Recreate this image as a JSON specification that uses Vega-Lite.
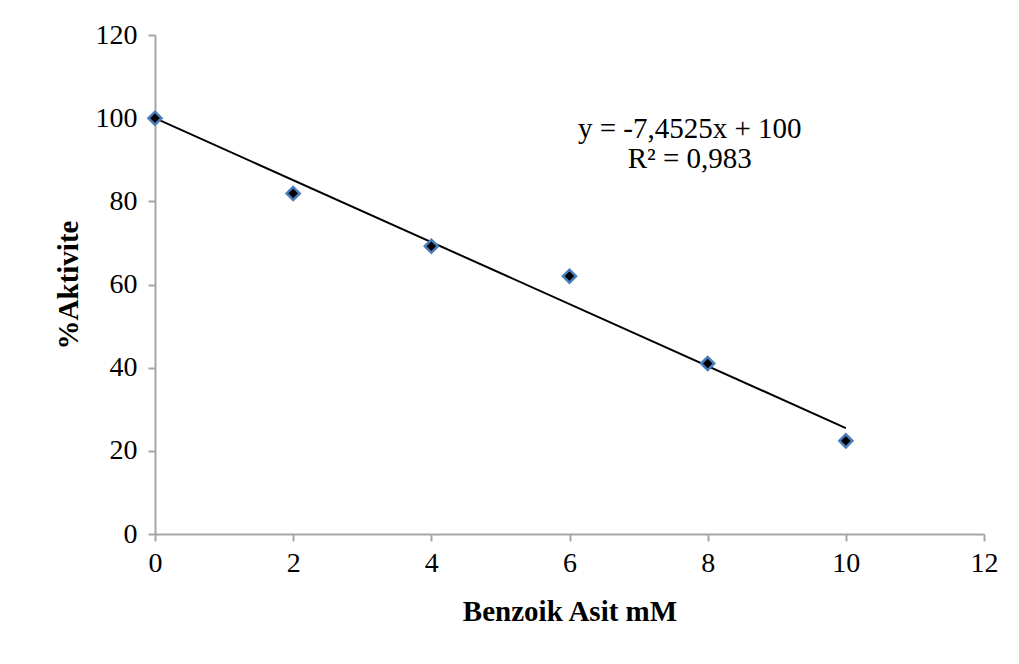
{
  "$schema": "https://vega.github.io/schema/vega-lite/v6.json",
  "width": 829,
  "height": 499,
  "padding": {"left": 155, "top": 35, "right": 35, "bottom": 130},
  "autosize": {"type": "none"},
  "background": "white",
  "config": {
    "view": {"stroke": null}
  },
  "datasets": {
    "points": [
      {"x": 0, "y": 100},
      {"x": 2, "y": 81.9},
      {"x": 4, "y": 69.2},
      {"x": 6, "y": 62.0},
      {"x": 8, "y": 41.0},
      {"x": 10, "y": 22.4}
    ],
    "trend": [
      {"x": 0, "y": 100},
      {"x": 10, "y": 25.475}
    ],
    "labels": [
      {"x": 7.74, "y": 97.5, "t": "y = -7,4525x + 100"},
      {"x": 7.74, "y": 90.3, "t": "R² = 0,983"}
    ]
  },
  "layer": [
    {
      "data": {"name": "trend"},
      "mark": {"type": "line", "color": "black", "strokeWidth": 2},
      "encoding": {
        "x": {"field": "x", "type": "quantitative", "scale": {"domain": [0, 12]},
          "axis": {"values": [0, 2, 4, 6, 8, 10, 12], "format": "d", "title": "Benzoik Asit mM", "labelFlush": false,
            "grid": false, "domainColor": "#a6a6a6", "domainWidth": 2, "tickColor": "#a6a6a6", "tickWidth": 2, "tickSize": 7,
            "labelFont": "Liberation Serif", "labelFontSize": 28, "labelColor": "black", "labelPadding": 8,
            "titleFont": "Liberation Serif", "titleFontSize": 29, "titleFontWeight": "bold", "titleColor": "black", "titlePadding": 20}},
        "y": {"field": "y", "type": "quantitative", "scale": {"domain": [0, 120]},
          "axis": {"values": [0, 20, 40, 60, 80, 100, 120], "format": "d", "title": "%Aktivite", "labelFlush": false,
            "grid": false, "domainColor": "#a6a6a6", "domainWidth": 2, "tickColor": "#a6a6a6", "tickWidth": 2, "tickSize": 7,
            "labelFont": "Liberation Serif", "labelFontSize": 28, "labelColor": "black", "labelPadding": 11,
            "titleFont": "Liberation Serif", "titleFontSize": 29, "titleFontWeight": "bold", "titleColor": "black", "titlePadding": 12}}
      }
    },
    {
      "data": {"name": "points"},
      "mark": {"type": "point", "shape": "diamond", "filled": true, "fill": "black", "stroke": "#4a7ebb", "strokeWidth": 2.5, "size": 170, "opacity": 1},
      "encoding": {
        "x": {"field": "x", "type": "quantitative"},
        "y": {"field": "y", "type": "quantitative"}
      }
    },
    {
      "data": {"name": "labels"},
      "mark": {"type": "text", "font": "Liberation Serif", "fontSize": 29, "color": "black", "align": "center", "baseline": "middle"},
      "encoding": {
        "x": {"field": "x", "type": "quantitative"},
        "y": {"field": "y", "type": "quantitative"},
        "text": {"field": "t", "type": "nominal"}
      }
    }
  ]
}
